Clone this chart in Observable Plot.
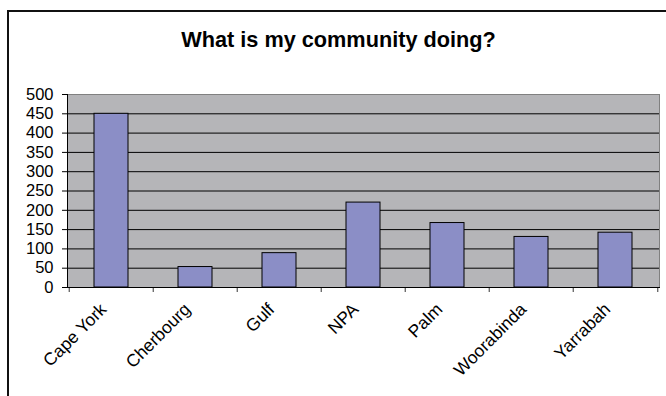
<!DOCTYPE html>
<html>
<head>
<meta charset="utf-8">
<script src="https://cdn.jsdelivr.net/npm/d3@7"></script>
<script src="https://cdn.jsdelivr.net/npm/@observablehq/plot@0.6"></script>
<style>
  html, body { margin: 0; padding: 0; background: #fff; width: 666px; height: 396px; overflow: hidden; }
  #title { position: absolute; left: 11px; top: 29px; width: 655px; text-align: center;
    font: bold 21.7px "Liberation Sans", Arial, sans-serif; line-height: 22px; color: #000; }
  #chart { position: absolute; left: 0; top: 60px; }
  #frame { position: absolute; left: 7px; top: 10px; width: 700px; height: 500px;
    border-left: 2px solid #111; border-top: 2px solid #111; pointer-events: none; }
</style>
</head>
<body>
<div id="title">What is my community doing?</div>
<div id="chart"></div>
<div id="frame"></div>
<script>
const categories = ["Cape York", "Cherbourg", "Gulf", "NPA", "Palm", "Woorabinda", "Yarrabah"];
const values = [450, 53, 89, 220, 167, 131, 142];
const yTicks = [0, 50, 100, 150, 200, 250, 300, 350, 400, 450, 500];

const data = categories.map((c, i) => ({category: c, value: values[i]}));

const W = 666, H = 336;
const mL = 67, mR = 7, mT = 34, mB = 109;
const plotH = H - mT - mB;
const step = (W - mL - mR) / categories.length;

const chart = Plot.plot({
  width: W,
  height: H,
  marginLeft: mL,
  marginRight: mR,
  marginTop: mT,
  marginBottom: mB,
  style: {background: "transparent", fontFamily: "'Liberation Sans', Arial, sans-serif", color: "#000"},
  x: {domain: categories, paddingInner: 0.6, paddingOuter: 0.3, label: null},
  y: {domain: [0, 500], label: null},
  marks: [
    Plot.frame({fill: "#b5b5b8", stroke: "#808080"}),
    Plot.ruleY(yTicks.filter(t => t > 0 && t < 500), {stroke: "#000", strokeWidth: 1}),
    Plot.barY(data, {x: "category", y: "value", fill: "#8b8ec6", stroke: "#000", strokeWidth: 1}),
    Plot.ruleX(categories, {x: d => d, dx: -step / 2, insetTop: plotH, insetBottom: -5, stroke: "#333"}),
    Plot.ruleX(categories.slice(-1), {x: d => d, dx: step / 2, insetTop: plotH, insetBottom: -5, stroke: "#333"}),
    Plot.frame({anchor: "left", stroke: "#000"}),
    Plot.frame({anchor: "bottom", stroke: "#000"}),
    Plot.axisY({ticks: yTicks, tickSize: 5, tickPadding: 9, fontSize: 16.5, tickFormat: d => String(d), label: null}),
    Plot.axisX({tickSize: 0, tickRotate: -45, tickPadding: 19, fontSize: 17.5, dx: -8, label: null})
  ]
});
document.getElementById("chart").appendChild(chart);
</script>
</body>
</html>
